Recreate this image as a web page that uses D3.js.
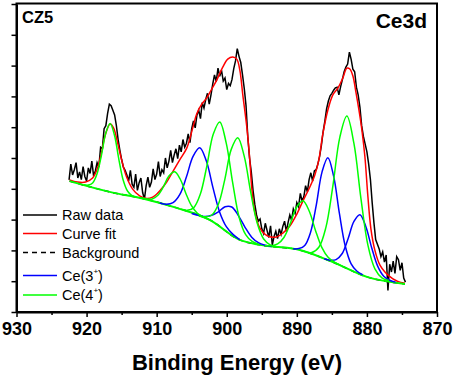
<!DOCTYPE html>
<html lang="en">
<head>
<meta charset="UTF-8">
<title>Ce3d XPS</title>
<script src="https://d3js.org/d3.v7.min.js"></script>
<style>
  body { margin: 0; background: #fff; }
  text { font-family: "Liberation Sans", Arial, sans-serif; }
</style>
</head>
<body>
<div id="chart"></div>
<script>
// raw spectrum: 0.25 eV steps from 922.5 eV down to 874.5 eV (intensity, a.u.)
const rawStart = 922.5, rawStep = 0.25;
const rawCounts = [
  4.29,4.80,4.45,4.62,4.85,4.35,4.55,4.30,4.72,4.40, 4.25,4.68,4.50,4.90,4.42,4.58,4.85,4.70,5.35,5.30,
  5.95,6.05,6.45,6.75,6.70,6.55,6.40,6.05,5.60,5.25, 4.95,4.70,4.60,
  4.45,4.25,4.60,4.15,4.05,4.48,3.95,4.20,4.35,3.88, 3.66,4.10,4.38,4.05,4.22,4.65,4.30,4.48,4.88,4.40,
  4.62,4.52,5.00,4.68,4.90,5.25,4.85,5.10,5.30,4.98, 5.42,5.20,5.60,5.35,5.48,5.78,5.50,5.95,
  6.20,5.98,6.40,6.55,6.28,6.80,6.62,6.90,7.10,6.75, 7.05,7.40,7.70,7.48,7.92,7.65,7.85,7.50,7.60,7.22,
  7.42,7.35,7.55,7.90,8.15,8.55,8.30,8.10,
  7.70,7.25,6.70,5.70,5.00,4.55,3.95,3.50,3.15,2.95,
  3.02,2.70,2.55,2.88,2.65,2.42,2.80,2.18,2.45,2.62, 2.38,2.70,2.52,2.78,2.95,2.62,2.90,3.15,2.98,3.35,
  3.20,3.55,3.42,3.85,3.60,3.75,4.10,3.90,4.30,4.52, 4.25,4.58,4.62,4.80,
  5.05,5.40,5.85,6.20,6.60,6.85,7.02,7.10,7.20,7.28, 7.30,7.05,7.32,7.55,7.80,7.95,8.05,8.44,8.20,7.88,
  7.80,7.30,7.05,6.65,6.05,5.70,5.45,5.20,4.80,4.30, 3.55,2.90,2.35,2.20,2.05,1.80,1.95,1.62,1.85,0.70,
  1.55,1.30,1.65,1.25,1.80,1.70,1.35,1.60,1.10,0.97
];

// curve fit [eV, intensity]
const fitCurve = [[922.43,4.29],[921.29,4.22],[920.14,4.22],[919.14,4.35],[918.43,4.68],[917.86,5.19],
  [917.29,5.78],[916.64,6.10],[916.14,5.97],[915.57,5.49],[915.0,4.94],[914.29,4.38],[913.43,3.99],
  [912.43,3.77],[911.57,3.69],[910.57,3.73],[909.57,3.93],[908.57,4.22],[907.57,4.61],[906.71,4.94],
  [905.71,5.32],[904.86,5.97],[904.29,6.43],[903.57,6.75],[902.86,6.95],[902.14,7.24],[901.43,7.53],
  [900.57,7.95],[899.86,8.21],[899.14,8.28],[898.57,8.21],[898.14,7.86],[897.71,7.05],[897.14,6.01],
  [896.71,4.94],[896.43,4.03],[896.0,3.25],[895.29,2.73],[894.57,2.53],[893.86,2.44],[892.86,2.44],
  [892.0,2.56],[891.0,2.79],[890.0,3.18],[889.14,3.60],[888.14,4.06],[887.43,4.45],[886.86,4.94],
  [886.29,5.78],[885.57,6.56],[884.86,7.05],[884.14,7.27],[883.43,7.60],[882.86,7.92],[882.43,7.89],
  [882.0,7.66],[881.57,7.14],[881.14,6.56],[880.71,5.90],[880.29,5.05],[879.86,3.75],[879.43,2.70],
  [878.86,2.00],[878.14,1.52],[877.43,1.30],[876.71,1.15],[876.0,1.04],[875.29,0.97],[874.57,0.93]];

// Shirley background [eV, intensity]
const background = [[922.43,4.25],[916.71,3.90],[911.71,3.67],[907.14,3.38],[902.43,2.99],[898.14,2.34],
  [895.29,2.18],[889.57,2.01],[884.86,1.62],[880.0,1.14],[874.57,0.91]];

// Ce(3+) components
const ce3u1 = [[898.16,2.35],[899.11,2.52],[900.06,2.77],[901.01,3.24],[901.96,4.03],[902.91,4.90],[903.86,5.33],
  [904.81,5.05],[905.76,4.38],[906.71,3.81],[907.66,3.55],[908.61,3.50],[909.56,3.54]];
const ce3u0 = [[893.59,2.13],[894.54,2.17],[895.49,2.25],[896.44,2.43],[897.39,2.75],[898.34,3.13],[899.29,3.41],
  [900.24,3.42],[901.19,3.25],[902.14,3.14],[903.09,3.10],[904.04,3.14],[904.99,3.20]];
const ce3v1 = [[880.62,1.21],[881.45,1.33],[882.27,1.57],[883.10,2.15],[883.92,3.19],[884.75,4.41],[885.57,5.01],
  [886.40,4.55],[887.22,3.48],[888.05,2.58],[888.87,2.16],[889.70,2.06],[890.52,2.05]];
const ce3v0 = [[875.9,0.97],[876.75,1.03],[877.6,1.16],[878.45,1.48],[879.3,2.07],[880.15,2.77],[881.0,3.16],
  [881.85,2.94],[882.7,2.37],[883.55,1.89],[884.4,1.70],[885.25,1.68],[886.1,1.73]];

// Ce(4+) components
const ce4u3 = [[912.89,3.73],[913.52,3.78],[914.14,3.92],[914.77,4.28],[915.39,4.95],[916.02,5.74],[916.64,6.12],
  [917.27,5.80],[917.89,5.08],[918.52,4.48],[919.14,4.19],[919.77,4.12],[920.39,4.13]];
const ce4u2 = [[902.63,3.01],[903.43,3.09],[904.23,3.21],[905.03,3.45],[905.83,3.85],[906.63,4.31],[907.43,4.55],
  [908.23,4.42],[909.03,4.07],[909.83,3.79],[910.63,3.67],[911.43,3.67],[912.23,3.70]];
const ce4u = [[895.45,2.20],[896.38,2.29],[897.30,2.51],[898.23,3.07],[899.15,4.19],[900.08,5.49],[901.0,6.17],
  [901.93,5.77],[902.85,4.73],[903.78,3.82],[904.70,3.39],[905.63,3.30],[906.55,3.34]];
const ce4v3 = [[892.88,2.12],[893.81,2.18],[894.73,2.37],[895.66,2.89],[896.58,3.89],[897.51,5.06],[898.43,5.66],
  [899.36,5.28],[900.28,4.30],[901.21,3.49],[902.13,3.15],[903.06,3.09],[903.98,3.12]];
const ce4v2 = [[883.74,1.51],[884.64,1.62],[885.54,1.78],[886.44,2.10],[887.34,2.65],[888.24,3.28],[889.14,3.61],
  [890.04,3.40],[890.94,2.87],[891.84,2.42],[892.74,2.21],[893.64,2.15],[894.54,2.16]];
const ce4v = [[876.86,1.02],[877.86,1.11],[878.86,1.40],[879.86,2.17],[880.86,3.70],[881.86,5.48],[882.86,6.36],
  [883.86,5.68],[884.86,4.09],[885.86,2.74],[886.86,2.10],[887.86,1.93],[888.86,1.96]];

const xTicks = [930, 920, 910, 900, 890, 880, 870];
const xMinor = [925, 915, 905, 895, 885, 875];

const W = 454, H = 378;
const x = d3.scaleLinear().domain([930, 870]).range([16.5, 437]);
const y = d3.scaleLinear().domain([0, 10]).range([312, 4]);

const svg = d3.select('#chart').append('svg')
  .attr('width', W).attr('height', H);

const raw = rawCounts.map((v, i) => [rawStart - i * rawStep, v]);
const line = d3.line().x(d => x(d[0])).y(d => y(d[1]));
const smooth = d3.line().x(d => x(d[0])).y(d => y(d[1])).curve(d3.curveCatmullRom);
const bgLine = d3.line().x(d => x(d[0])).y(d => y(d[1])).curve(d3.curveMonotoneX);

function draw(data, gen, col, dash) {
  svg.append('path').datum(data)
    .attr('d', gen).attr('fill', 'none').attr('stroke', col).attr('stroke-width', 1.5)
    .attr('stroke-dasharray', dash || null);
}

draw(raw, line, '#000');
draw(fitCurve, smooth, '#ff0000');
draw(background, bgLine, '#000', '5,4');
// component tails run along the background
svg.append('path').datum(background)
  .attr('d', bgLine).attr('fill', 'none').attr('stroke', '#00ff00').attr('stroke-width', 2);
[ce3u1, ce3u0, ce3v1, ce3v0].forEach(c => draw(c, smooth, '#0000ff'));
[ce4u3, ce4u2, ce4u, ce4v3, ce4v2, ce4v].forEach(c => draw(c, smooth, '#00ff00'));

// axes
const gx = svg.append('g').attr('transform', 'translate(0,312)')
  .call(d3.axisBottom(x).tickValues(xTicks).tickSize(5).tickPadding(5).tickSizeOuter(0).tickFormat(d3.format('d')));
gx.selectAll('text')
  .style('font-family', '"Liberation Sans", Arial, sans-serif')
  .style('font-size', '18px').style('font-weight', 'bold');
svg.append('g').attr('transform', 'translate(0,312)')
  .call(d3.axisBottom(x).tickValues(xMinor).tickSize(3).tickFormat(''))
  .select('.domain').remove();
svg.append('g').attr('transform', 'translate(16.5,0)')
  .call(d3.axisLeft(y).ticks(10).tickSize(5).tickSizeOuter(0).tickFormat(''));
svg.selectAll('.domain').attr('stroke-width', 2);
svg.selectAll('.tick line').attr('stroke-width', 1.5);
svg.append('rect').attr('x', 16.5).attr('y', 3.5).attr('width', 420.5).attr('height', 308.5)
  .attr('fill', 'none').attr('stroke', '#000').attr('stroke-width', 2);

svg.append('text').attr('x', 237).attr('y', 370).attr('text-anchor', 'middle')
  .attr('font-size', 22).attr('font-weight', 'bold').text('Binding Energy (eV)');
svg.append('text').attr('x', 22).attr('y', 23).attr('font-size', 16.5).attr('font-weight', 'bold').text('CZ5');
svg.append('text').attr('x', 427).attr('y', 28).attr('text-anchor', 'end')
  .attr('font-size', 21).attr('font-weight', 'bold').text('Ce3d');

// legend
const legend = [
  {label: 'Raw data', col: '#000', y: 215},
  {label: 'Curve fit', col: '#ff0000', y: 233.5},
  {label: 'Background', col: '#000', y: 252.5, dash: '5,4'},
  {label: 'Ce(3', sup: '+', col: '#0000ff', y: 275.5},
  {label: 'Ce(4', sup: '+', col: '#00ff00', y: 295}
];
legend.forEach(d => {
  svg.append('line').attr('x1', 23).attr('x2', 57).attr('y1', d.y).attr('y2', d.y)
    .attr('stroke', d.col).attr('stroke-width', 1.5).attr('stroke-dasharray', d.dash || null);
  const t = svg.append('text').attr('x', 62).attr('y', d.y + 5).attr('font-size', 14.5);
  t.append('tspan').text(d.label);
  if (d.sup) {
    t.append('tspan').attr('font-size', 8).attr('dy', -7).text(d.sup);
    t.append('tspan').attr('dy', 7).text(')');
  }
});
</script>
</body>
</html>
